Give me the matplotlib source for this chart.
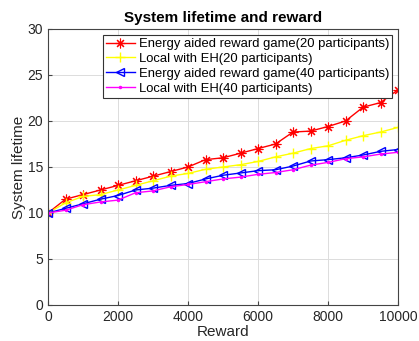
import numpy as np
import matplotlib
matplotlib.use("Agg")
import matplotlib.pyplot as plt

plt.rcParams["font.family"] = ["Liberation Sans", "DejaVu Sans"]

# reward budget (x axis)
reward = np.arange(0, 10001, 500)

# system lifetime for each scheme
eh_game_20 = [10.0, 11.5, 12.0, 12.5, 13.0, 13.5, 14.0, 14.5, 15.0, 15.8, 16.0,
              16.5, 17.0, 17.5, 18.8, 18.9, 19.4, 20.0, 21.5, 22.0, 23.4]
local_eh_20 = [10.0, 11.1, 11.8, 12.0, 12.5, 13.0, 13.5, 14.0, 14.3, 14.75, 15.0,
               15.25, 15.6, 16.1, 16.5, 17.0, 17.3, 17.9, 18.4, 18.8, 19.3]
eh_game_40 = [10.0, 10.5, 11.0, 11.5, 11.9, 12.5, 12.7, 13.0, 13.2, 13.7, 14.1,
              14.35, 14.6, 14.7, 15.1, 15.65, 15.8, 16.0, 16.3, 16.7, 16.9]
local_eh_40 = [10.0, 10.3, 10.9, 11.2, 11.4, 12.2, 12.4, 12.85, 13.1, 13.4, 13.7,
               13.9, 14.2, 14.4, 14.7, 15.2, 15.5, 15.9, 16.1, 16.4, 16.6]

fig = plt.figure(figsize=(4.19, 3.41), dpi=100)
ax = fig.add_axes([0.1146, 0.1056, 0.8354, 0.8094])

# (8, 2, 0) -> eight-armed asterisk like the classic '*' marker
ax.plot(reward, eh_game_20, color="red", lw=1.0, marker=(8, 2, 0), ms=7, mew=0.8,
        label="Energy aided reward game(20 participants)")
ax.plot(reward, local_eh_20, color="yellow", lw=1.0, marker="+", ms=7,
        label="Local with EH(20 participants)")
ax.plot(reward, eh_game_40, color="blue", lw=1.0, marker="<", ms=6,
        mfc="none", label="Energy aided reward game(40 participants)")
ax.plot(reward, local_eh_40, color="magenta", lw=1.0, marker=".", ms=3,
        label="Local with EH(40 participants)")

ax.set_xlim(0, 10000)
ax.set_ylim(0, 30)
ax.set_xticks(range(0, 10001, 2000))
ax.set_yticks(range(0, 31, 5))
ax.grid(True, color="#dcdcdc", lw=0.7)
ax.set_axisbelow(True)
ax.tick_params(direction="in", labelsize=10, length=3, color="#444444",
               labelcolor="#262626")
for s in ax.spines.values():
    s.set_color("#444444")
    s.set_linewidth(0.8)

ax.set_xlabel("Reward", fontsize=11, labelpad=1, color="#262626")
ax.set_ylabel("System lifetime", fontsize=11, labelpad=1, color="#262626")
ax.set_title("System lifetime and reward", fontsize=11, fontweight="bold", pad=5)

leg = ax.legend(loc="upper right", fontsize=9.4, borderaxespad=0.45,
                handlelength=2.2, handletextpad=0.3, labelspacing=0.2,
                borderpad=0.25, fancybox=False, framealpha=1)
leg.get_frame().set_edgecolor("#333333")
leg.get_frame().set_linewidth(0.8)

fig.savefig("out.png", dpi=100)
